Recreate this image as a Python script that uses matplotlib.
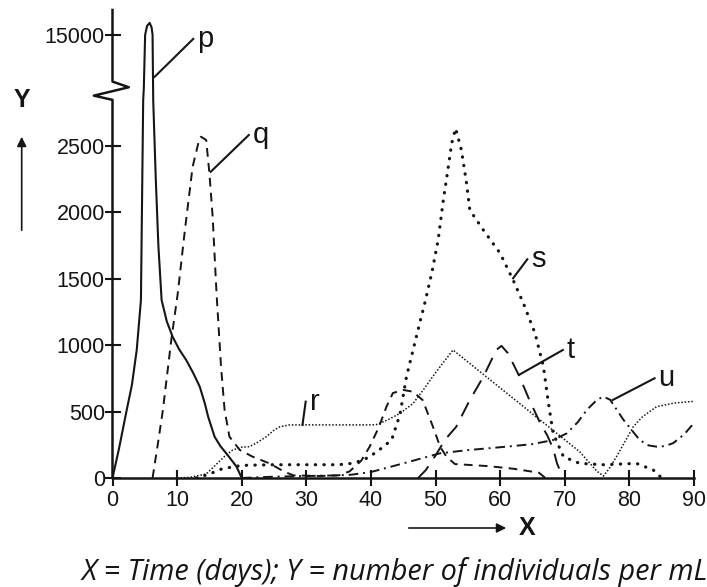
import numpy as np
import matplotlib
matplotlib.use("Agg")
import matplotlib.pyplot as plt

# ---- data (x = days, y = individuals per mL) ----
p_x = [0, 1, 2.2, 3, 3.75, 4.4, 4.75, 4.85, 5.05, 5.35, 5.75, 6.05, 6.2, 6.3, 6.7, 7.1, 7.6,
       8.4, 9.3, 10.3, 11.4, 12.5, 13.5, 14.3, 14.8, 15.8, 16.7, 17.6, 18.5, 19.2, 20]
p_y = [0, 220, 512, 700, 964, 1340, 2846, 11500, 15000, 15600, 15800, 15500, 15000, 2846, 2250,
       1750, 1340, 1180, 1064, 970, 889, 790, 688, 560, 462, 311, 240, 186, 130, 85, 0]

q_x = [6.2, 7.0, 7.8, 9.1, 10.1, 11.15, 12.4, 13.4, 13.7, 14.5, 15.0, 15.5, 16.1, 16.8, 17.35,
       18.1, 19.7, 21.7, 24.3, 26.6, 28, 32, 35, 36.7, 38.5, 39.8, 41.2, 42.4, 43.4, 45, 46.5,
       48, 49.6, 50.7, 51.7, 53, 58, 62, 66, 67]
q_y = [0, 250, 512, 1040, 1390, 1844, 2344, 2545, 2570, 2545, 2294, 1968, 1391, 838, 512,
       311, 211, 160, 110, 47, 20, 15, 20, 50, 130, 236, 380, 537, 640, 663, 650,
       587, 386, 236, 160, 105, 90, 70, 40, 0]

r_x = [10, 12, 14.5, 16, 17.5, 18.6, 20, 21.2, 22.5, 23.8, 25, 25.9, 27.4, 30, 35, 40, 40.8,
       42.5, 44.5, 46.5, 48.1, 49.5, 50.7, 52.7, 72.3, 73.9, 75, 76, 77, 78, 80.6, 82, 84.2,
       87, 89.4, 90]
r_y = [0, 5, 30, 100, 170, 211, 232, 236, 270, 311, 360, 386, 400, 400, 400, 400, 402,
       435, 487, 560, 663, 760, 838, 964, 198, 110, 50, 15, 80, 160, 386, 460, 537,
       565, 575, 577]

s_x = [13, 15, 17, 20, 25, 30, 35, 37, 38.5, 39.8, 41.5, 43.2, 44.5, 45.5, 47.6, 48.2, 49.4,
       50.4, 51.2, 51.9, 52.5, 53.1, 54, 54.8, 55.3, 57.4, 60, 62, 63.6, 65.4, 66.7, 67.4,
       68.2, 69.8, 72.3, 76, 81.1, 83.7, 85]
s_y = [0, 30, 70, 95, 100, 100, 100, 110, 130, 160, 220, 286, 480, 763, 1177, 1290, 1541,
       1792, 2093, 2319, 2520, 2633, 2470, 2219, 2018, 1867, 1692, 1491, 1315, 1089, 838, 587,
       336, 160, 110, 100, 110, 60, 0]

t_x = [47.3, 48.5, 50, 51.5, 53.2, 55.3, 57.4, 59.4, 60.2, 61.2, 63, 64.5, 66.2, 67.3, 68.2,
       68.8, 69.4]
t_y = [0, 60, 170, 290, 386, 587, 763, 964, 995, 940, 763, 590, 413, 320, 220, 110, 40]

u_x = [20, 25, 30, 35, 37, 40, 45, 50.7, 55, 61, 65, 68.2, 70.3, 72, 73.4, 75, 76, 77, 79.1,
       81.6, 83, 84.2, 85.5, 86.8, 88.5, 90]
u_y = [0, 10, 15, 20, 25, 45, 110, 186, 210, 236, 255, 286, 336, 420, 512, 590, 612, 590, 437,
       286, 245, 236, 240, 263, 330, 414]

y_ticks = [0, 500, 1000, 1500, 2000, 2500, 15000]
x_ticks = [0, 10, 20, 30, 40, 50, 60, 70, 80, 90]

# label: (text, leader start x, y, leader end x, y)
labels = [("p", 6.5, 12200, 12.5, 14735),
          ("q", 15.2, 2306, 21.1, 2583),
          ("r", 29.4, 399, 29.9, 575),
          ("s", 62.0, 1504, 64.2, 1647),
          ("t", 62.9, 776, 69.7, 964),
          ("u", 77.4, 587, 83.9, 751)]

# ---- broken y scale: linear up to LO, collapsed gap, compressed upper part ----
LO, HI, K, EPS = 2937.0, 11470.0, 0.113, 1e-4
D1 = LO + (HI - LO) * EPS


def fwd(y):
    y = np.asarray(y, dtype=float)
    return np.where(y <= LO, y,
                    np.where(y <= HI, LO + (y - LO) * EPS, D1 + (y - HI) * K))


def inv(d):
    d = np.asarray(d, dtype=float)
    return np.where(d <= LO, d,
                    np.where(d <= D1, LO + (d - LO) / EPS, HI + (d - D1) / K))


plt.rcParams['font.family'] = ['Liberation Sans', 'DejaVu Sans']
ink = "#151515"

fig = plt.figure(figsize=(7.07, 5.87), dpi=100)
ax = fig.add_axes([112.5 / 707, 109 / 587, 581.5 / 707, 468 / 587])
ax.set_yscale('function', functions=(fwd, inv))
ax.set_xlim(0, 90)
ax.set_ylim(0, 16660)

lw = 1.4
ax.plot(p_x, p_y, color=ink, lw=1.5, ls='-')
ax.plot(q_x, q_y, color=ink, lw=lw, ls=(0, (4.5, 3.2)))
ax.plot(r_x, r_y, color=ink, lw=1.1, ls=(0, (1, 1.2)))
ax.plot(s_x, s_y, color=ink, lw=2.3, ls=(0, (0.1, 2.6)), dash_capstyle='round')
ax.plot(t_x, t_y, color=ink, lw=lw, ls=(0, (8, 5)))
ax.plot(u_x, u_y, color=ink, lw=lw, ls=(0, (5, 2.5, 1, 2.5)))

for name, x0, y0, x1, y1 in labels:
    ax.plot([x0, x1], [y0, y1], color=ink, lw=1.5)
    ax.text(x1 + 0.6, y1, name, fontsize=21, color=ink, ha='left', va='center')

# spines
for side in ['top', 'right', 'left']:
    ax.spines[side].set_visible(False)
ax.spines['bottom'].set_linewidth(1.8)
ax.spines['bottom'].set_color(ink)
ax.plot([0, 0, -0.032, 0.028, 0, 0], [0, 0.808, 0.817, 0.835, 0.847, 1.0],
        transform=ax.transAxes, color=ink, lw=1.8, clip_on=False)

ax.set_xticks(x_ticks)
ax.set_yticks(y_ticks)
ax.set_yticklabels([str(v) for v in y_ticks])
ax.tick_params(axis='both', direction='inout', length=11, width=1.5, colors=ink,
               labelsize=15.5)
ax.tick_params(axis='x', pad=3)
ax.tick_params(axis='y', pad=0)

# axis arrows and letters
fig.text(21.7 / 707, 1 - 100 / 587, "Y", fontsize=18, fontweight='bold', color=ink,
         ha='center', va='center')
fig.patches.append(matplotlib.patches.FancyArrowPatch(
    (21.7 / 707, 1 - 233 / 587), (21.7 / 707, 1 - 134 / 587), transform=fig.transFigure,
    arrowstyle='-|>', mutation_scale=14, color=ink, lw=1.2))
fig.patches.append(matplotlib.patches.FancyArrowPatch(
    (406 / 707, 1 - 528 / 587), (509 / 707, 1 - 528 / 587), transform=fig.transFigure,
    arrowstyle='-|>', mutation_scale=14, color=ink, lw=1.2))
fig.text(527 / 707, 1 - 528 / 587, "X", fontsize=18, fontweight='bold', color=ink,
         ha='center', va='center')

fig.text(82 / 707, 1 - 572 / 587, "X = Time (days); Y = number of individuals per mL",
         fontsize=20.8, style='italic', family='Open Sans', color=ink, ha='left', va='center')

fig.savefig("out.png", dpi=100)
